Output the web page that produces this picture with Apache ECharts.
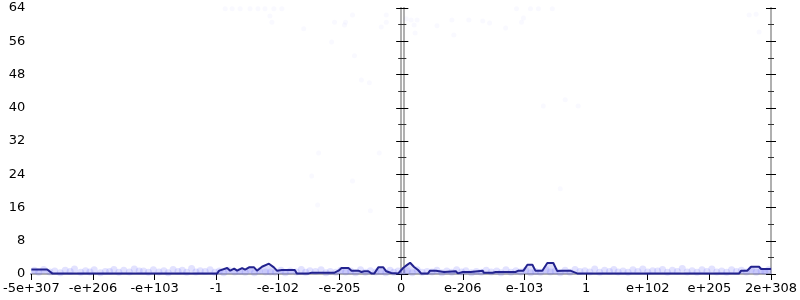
<!DOCTYPE html>
<html><head><meta charset="utf-8">
<script src="https://cdn.jsdelivr.net/npm/echarts@6/dist/echarts.min.js"></script>
<style>html,body{margin:0;padding:0;background:#fff}#c{width:800px;height:300px}</style>
</head><body><div id="c"></div>
<script>
// x tick labels, one per integer position from -6 to 6 on the symmetric log-like axis
const xTickLabels = ['-5e+307','-e+206','-e+103','-1','-e-102','-e-205','0','e-206','e-103','1','e+102','e+205','2e+308'];
const yTicks = [0, 8, 16, 24, 32, 40, 48, 56, 64];

// histogram line: x position (axis units), count
const lineX = [-6,-5.742,-5.661,-2.984,-2.952,-2.823,-2.774,-2.71,-2.661,-2.581,-2.532,-2.468,-2.387,-2.339,-2.258,-2.145,-2.065,-2.016,-1.935,-1.726,-1.694,-1.5,-1.452,-1.081,-1.016,-0.968,-0.855,-0.806,-0.694,-0.645,-0.597,-0.532,-0.484,-0.435,-0.371,-0.29,-0.242,-0.161,-0.048,0.032,0.097,0.145,0.21,0.274,0.323,0.435,0.468,0.565,0.597,0.694,0.726,0.887,0.919,1.0,1.129,1.161,1.323,1.339,1.484,1.532,1.855,1.903,1.984,2.048,2.129,2.177,2.29,2.371,2.468,2.532,2.613,2.661,2.742,2.855,5.484,5.516,5.613,5.677,5.806,5.839,6];
const lineY = [1.1,1.1,0.15,0.15,0.8,1.44,0.8,1.28,0.8,1.44,1.03,1.6,1.6,0.8,1.75,2.48,1.6,0.8,0.96,0.96,0.15,0.15,0.31,0.31,0.8,1.44,1.44,0.8,0.8,0.48,0.65,0.65,0.15,0.15,1.6,1.6,0.65,0.24,0.15,1.44,2.2,2.7,1.7,0.96,0.15,0.15,0.8,0.8,0.48,0.48,0.65,0.65,0.15,0.48,0.48,0.8,0.8,0.31,0.31,0.48,0.48,0.8,0.8,2.24,2.24,0.8,0.8,2.65,2.65,0.7,0.8,0.8,0.8,0.15,0.15,0.8,0.8,1.75,1.75,1.2,1.2];

// faint scatter points near the baseline
const bandX = [-5.95,-5.8,-5.62,-5.45,-5.3,-5.12,-4.98,-4.8,-4.66,-4.5,-4.33,-4.18,-4.02,-3.85,-3.7,-3.55,-3.4,-3.26,-3.1,-2.95,-2.8,-2.62,-2.45,-2.3,-2.12,-1.95,-1.8,-1.62,-1.48,-1.3,-1.15,-0.98,-0.82,-0.66,-0.5,-0.33,-0.18,-0.05,0.1,0.26,0.42,0.58,0.74,0.9,1.05,1.22,1.38,1.55,1.7,1.86,2.02,2.18,2.35,2.5,2.66,2.82,2.98,3.14,3.3,3.45,3.6,3.76,3.92,4.08,4.24,4.4,4.56,4.72,4.88,5.04,5.2,5.36,5.52,5.68,5.84,5.96];
const bandY = [0.9,1.1,0.7,0.9,1.2,0.8,1.0,0.6,1.1,0.9,1.2,0.7,1.0,0.8,1.1,0.9,1.3,0.8,1.0,0.7,0.9,0.6,1.0,0.8,0.5,0.9,0.7,1.1,0.8,1.0,0.6,0.9,0.7,1.0,0.8,0.6,0.9,0.7,0.8,1.0,0.6,0.9,0.7,1.0,0.8,0.6,0.9,0.7,1.0,0.8,0.9,0.6,1.0,0.7,0.9,1.1,0.8,1.2,0.9,1.1,0.7,1.0,1.2,0.8,1.1,0.9,1.3,0.8,1.0,1.2,0.7,1.0,0.9,1.1,0.8,1.0];
const band2X = [-5.88,-5.7,-5.53,-5.37,-5.2,-5.05,-4.88,-4.73,-4.58,-4.41,-4.25,-4.1,-3.93,-3.78,-3.62,-3.48,-3.33,-3.18,-3.02,-2.88,-2.7,-2.53,-2.38,-2.2,-2.04,-1.88,-1.7,-1.55,-1.39,-1.22,-1.06,-0.9,-0.74,-0.58,-0.41,-0.25,-0.12,0.02,0.18,0.34,0.5,0.66,0.82,0.98,1.14,1.3,1.46,1.62,1.78,1.94,2.1,2.26,2.42,2.58,2.74,2.9,3.06,3.22,3.38,3.52,3.68,3.84,4.0,4.16,4.32,4.48,4.64,4.8,4.96,5.12,5.28,5.44,5.6,5.76,5.9];
const band2Y = [0.4,0.5,0.3,0.6,0.4,0.5,0.3,0.6,0.4,0.5,0.7,0.4,0.5,0.3,0.6,0.4,0.5,0.6,0.4,0.3,0.5,0.4,0.3,0.5,0.4,0.3,0.5,0.4,0.6,0.3,0.4,0.5,0.3,0.4,0.5,0.3,0.4,0.5,0.3,0.4,0.5,0.3,0.4,0.5,0.3,0.4,0.5,0.3,0.4,0.5,0.3,0.4,0.5,0.3,0.4,0.6,0.5,0.4,0.6,0.5,0.4,0.6,0.5,0.7,0.4,0.6,0.5,0.4,0.6,0.5,0.4,0.6,0.5,0.4,0.6];

// faint scatter points higher up
const highX = [-2.855,-2.742,-2.613,-2.452,-2.323,-2.21,-2.065,-1.935,-2.129,-2.097,-1.581,-1.129,-1.081,-0.903,-0.919,-0.79,-0.758,-0.645,-0.516,-0.323,-0.242,-0.242,0.081,0.161,0.21,0.258,0.226,0.581,0.823,0.855,1.097,1.323,1.435,1.694,1.952,1.984,1.871,2.097,2.226,2.452,2.661,2.871,2.306,2.581,-1.339,-1.452,-0.79,-1.355,-0.5,-0.355,5.645,5.758,5.806];
const highY = [63.8,63.8,63.8,63.8,63.8,63.8,63.8,63.8,62.1,60.6,59.0,55.8,60.6,60.6,59.9,62.3,52.5,46.7,46.0,59.4,62.3,60.6,61.4,61.1,59.9,61.1,58.0,59.7,61.1,57.5,61.1,60.9,60.4,59.2,60.6,61.6,63.8,63.8,63.8,63.8,41.9,40.4,40.4,20.5,29.1,23.6,22.4,16.6,15.2,29.1,62.3,62.5,58.2];

const zip = (a, b) => a.map((v, i) => [v, b[i]]);

const FONT = 'DejaVu Sans';
const GREY = '#b0b0b0';
function yAx(position, offset, inside, showLabel) {
  return {
    type: 'value', min: 0, max: 64, interval: 8, position: position, offset: offset,
    axisLine: { show: true, lineStyle: { color: GREY, width: 2 } },
    axisTick: { show: true, inside: inside, length: 5, lineStyle: { color: '#000', width: 1 } },
    minorTick: { show: true, splitNumber: 2, length: 3, lineStyle: { color: '#333', width: 1 } },
    splitLine: { show: false },
    axisLabel: { show: showLabel, margin: 6, color: '#000', fontFamily: FONT, fontSize: 13,
      formatter: v => (yTicks.indexOf(v) >= 0 ? String(v) : '') }
  };
}

const chart = echarts.init(document.getElementById('c'), null, { renderer: 'canvas' });
chart.setOption({
  animation: false,
  backgroundColor: '#fff',
  grid: { left: 28, right: 28, top: 8, bottom: 26, containLabel: false },
  xAxis: [
    { type: 'value', min: -6, max: 6, interval: 1, position: 'bottom',
      axisLine: { show: true, lineStyle: { color: '#4040ee', width: 2 } },
      axisTick: { show: true, length: 6, lineStyle: { color: '#000', width: 1 } },
      splitLine: { show: false },
      axisLabel: { margin: 8, color: '#000', fontFamily: FONT, fontSize: 13, showMinLabel: true, showMaxLabel: true,
        formatter: v => xTickLabels[Math.round(v) + 6] } },
    { type: 'value', min: -6, max: 6, interval: 1, position: 'top',
      axisLine: { show: true, lineStyle: { color: GREY, width: 2 } },
      axisTick: { show: false }, axisLabel: { show: false }, splitLine: { show: false } }
  ],
  yAxis: [
    yAx('left', 0, false, true),
    yAx('left', 0, true, false),
    yAx('left', -372, false, false),
    yAx('left', -372, true, false),
    yAx('right', 0, false, false),
    yAx('right', 0, true, false)
  ],
  series: [
    { type: 'line', xAxisIndex: 0, yAxisIndex: 0, data: zip(lineX, lineY), symbol: 'none', z: 3,
      lineStyle: { color: '#23238f', width: 2 },
      areaStyle: { color: 'rgba(120,120,235,0.35)' } },
    { type: 'scatter', xAxisIndex: 0, yAxisIndex: 0, data: zip(bandX, bandY), symbolSize: 7, z: 2,
      itemStyle: { color: 'rgba(90,90,255,0.22)' } },
    { type: 'scatter', xAxisIndex: 0, yAxisIndex: 0, data: zip(band2X, band2Y), symbolSize: 7, z: 2,
      itemStyle: { color: 'rgba(90,90,255,0.22)' } },
    { type: 'scatter', xAxisIndex: 0, yAxisIndex: 0, data: zip(highX, highY), symbolSize: 5, z: 4,
      itemStyle: { color: 'rgba(80,80,255,0.045)' } }
  ]
});
</script>
</body></html>
